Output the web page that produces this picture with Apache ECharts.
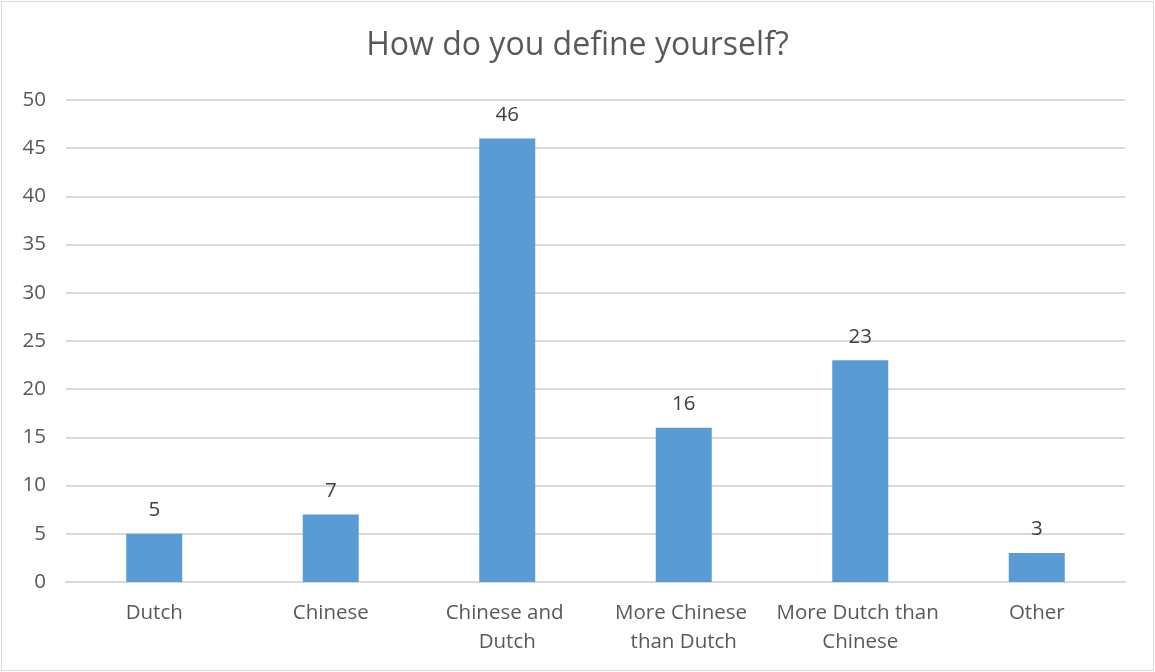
<!DOCTYPE html>
<html><head><meta charset="utf-8">
<script src="https://cdn.jsdelivr.net/npm/echarts@6/dist/echarts.min.js"></script>
<style>html,body{margin:0;padding:0;background:#fff}#c{width:1155px;height:672px}</style>
</head><body><div id="c"></div>
<script>
const title = 'How do you define yourself?';
const categories = ['Dutch', 'Chinese', 'Chinese and Dutch', 'More Chinese than Dutch', 'More Dutch than Chinese', 'Other'];
const values = [5, 7, 46, 16, 23, 3];
const yTicks = {min: 0, max: 50, interval: 5};

const chart = echarts.init(document.getElementById('c'));
chart.setOption({
  animation: false,
  textStyle: {fontFamily: 'Open Sans'},
  title: {text: title, left: 'center', top: 25,
    textStyle: {fontSize: 32, fontWeight: 'normal', color: '#595959', fontFamily: 'Open Sans'}},
  graphic: [{type: 'rect', shape: {x: 1.5, y: 1.5, width: 1152, height: 669},
    style: {fill: 'none', stroke: '#d9d9d9', lineWidth: 1}, silent: true}],
  grid: {left: 66, right: 30, top: 100, bottom: 90, containLabel: false},
  xAxis: {type: 'category', data: categories,
    axisLine: {lineStyle: {color: '#d9d9d9', width: 2}}, axisTick: {show: false},
    axisLabel: {color: '#595959', fontSize: 20.5, margin: 17, lineHeight: 29, interval: 0,
      width: 172, overflow: 'break'}},
  yAxis: {type: 'value', min: yTicks.min, max: yTicks.max, interval: yTicks.interval,
    axisLine: {show: false}, axisTick: {show: false},
    axisLabel: {color: '#595959', fontSize: 20.5, margin: 20},
    splitLine: {lineStyle: {color: '#d9d9d9', width: 2}}},
  series: [{type: 'bar', data: values, barWidth: 56,
    itemStyle: {color: '#5B9BD5'},
    label: {show: true, position: 'top', distance: 13, color: '#404040', fontSize: 20.5}}]
});
</script></body></html>
